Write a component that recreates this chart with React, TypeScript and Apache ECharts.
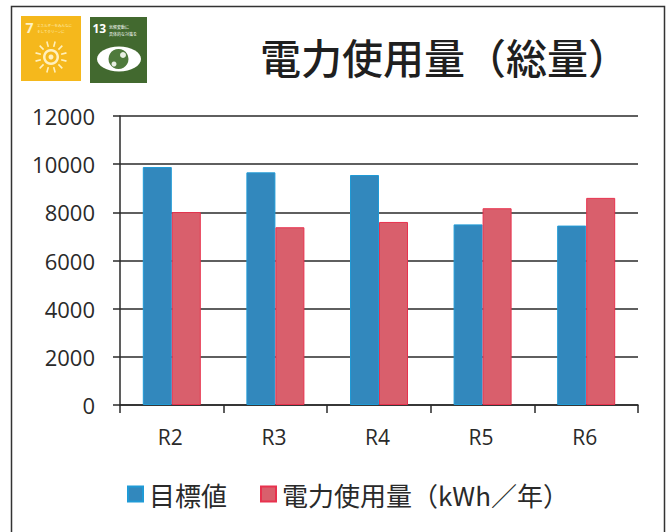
import React, { useEffect, useRef } from "react";
import * as echarts from "echarts";

const categories = ["R2", "R3", "R4", "R5", "R6"];
const targetValues = [9880, 9660, 9550, 7500, 7450];
const usageValues = [8010, 7380, 7600, 8170, 8600];
const seriesNames = ["目標値", "電力使用量（kWh／年）"];
const titleText = "電力使用量（総量）";

const jp = '"Noto Sans CJK JP", sans-serif';
const latin = '"Open Sans", sans-serif';

function sunRays() {
  const rays: any[] = [];
  const cx = 51, cy = 57;
  for (let i = 0; i < 12; i++) {
    const a = (i * Math.PI) / 6 + Math.PI / 12;
    rays.push({
      type: "line",
      shape: { x1: cx + Math.cos(a) * 10.5, y1: cy + Math.sin(a) * 10.5, x2: cx + Math.cos(a) * 16, y2: cy + Math.sin(a) * 16 },
      style: { stroke: "#fff0bd", lineWidth: 1.6 },
    });
  }
  return rays;
}

export default function App() {
  const ref = useRef<HTMLDivElement>(null);
  useEffect(() => {
    const chart = echarts.init(ref.current!, null, { renderer: "svg" });
    chart.setOption({
      animation: false,
      backgroundColor: "#ffffff",
      title: {
        text: titleText,
        left: 255,
        top: 30,
        textStyle: { fontFamily: jp, fontSize: 41, fontWeight: 500, color: "#1f1f1f" },
      },
      legend: {
        left: 122,
        top: 476,
        itemWidth: 15,
        itemHeight: 15,
        itemGap: 33,
        icon: "rect",
        textStyle: { fontFamily: jp, fontSize: 26, color: "#2a2a2a", padding: [0, 0, 0, 1] },
        data: seriesNames,
      },
      grid: { left: 120, right: 29, top: 116, height: 289 },
      xAxis: {
        type: "category",
        data: categories,
        axisLine: { lineStyle: { color: "#2a2a2a", width: 1.5 } },
        axisTick: { show: true, alignWithLabel: false, length: 8, lineStyle: { color: "#2a2a2a", width: 1.5 } },
        axisLabel: { fontFamily: latin, fontSize: 21, color: "#2a2a2a", margin: 21, padding: [0, 3, 0, 0] },
      },
      yAxis: {
        type: "value",
        min: 0,
        max: 12000,
        interval: 2000,
        axisLine: { show: true, lineStyle: { color: "#2a2a2a", width: 1.5 } },
        axisTick: { show: true, length: 7, lineStyle: { color: "#2a2a2a", width: 1.5 } },
        axisLabel: { fontFamily: latin, fontSize: 22, color: "#2a2a2a", margin: 24, padding: [0, 1, 3, 0], formatter: (v: number) => String(v) },
        splitLine: { show: true, lineStyle: { color: "#2a2a2a", width: 1.5 } },
      },
      series: [
        {
          name: seriesNames[0],
          type: "bar",
          data: targetValues,
          barWidth: 29,
          barGap: 0,
          itemStyle: { color: "#3288bd", borderColor: "#1f9ad6", borderWidth: 1 },
        },
        {
          name: seriesNames[1],
          type: "bar",
          data: usageValues,
          barWidth: 29,
          barGap: 0,
          itemStyle: { color: "#d95f6c", borderColor: "#e8324e", borderWidth: 1 },
        },
      ],
      graphic: [
        {
          type: "polyline",
          silent: true,
          shape: { points: [[11.5, 532], [11.5, 6.5], [664.5, 6.5], [664.5, 532]] },
          style: { stroke: "#333333", lineWidth: 1.5, fill: "none" },
        },
        { type: "rect", shape: { x: 21, y: 16, width: 60, height: 65 }, style: { fill: "#f5b81c" } },
        { type: "text", x: 25.5, y: 20, style: { text: "7", fill: "#fff3c4", fontFamily: latin, fontSize: 14, fontWeight: 700 } },
        { type: "text", x: 37, y: 22, style: { text: "エネルギーをみんなに\nそしてクリーンに", fill: "#fff0bd", fontFamily: jp, fontSize: 3.5, lineHeight: 6 } },
        ...sunRays(),
        { type: "ring", shape: { cx: 51, cy: 57, r: 8, r0: 5.5 }, style: { fill: "#fff0bd" } },
        { type: "circle", shape: { cx: 51, cy: 57, r: 2.5 }, style: { fill: "#fff0bd" } },
        { type: "rect", shape: { x: 90, y: 17, width: 57, height: 66 }, style: { fill: "#42692f" } },
        { type: "text", x: 92.5, y: 22, style: { text: "13", fill: "#ffffff", fontFamily: latin, fontSize: 12, fontWeight: 700 } },
        { type: "text", x: 109, y: 23, style: { text: "気候変動に\n具体的な対策を", fill: "#ffffff", fontFamily: jp, fontSize: 4, lineHeight: 7 } },
        { type: "ellipse", shape: { cx: 119, cy: 59, rx: 22, ry: 12.5 }, style: { fill: "#ffffff" } },
        { type: "circle", shape: { cx: 118.5, cy: 59, r: 10 }, style: { fill: "#4f7a3c" } },
        { type: "circle", shape: { cx: 123, cy: 55, r: 3 }, style: { fill: "#e8efe2" } },
        { type: "circle", shape: { cx: 114, cy: 64, r: 2.5 }, style: { fill: "#e8efe2" } },
      ],
    });
    return () => chart.dispose();
  }, []);
  return <div ref={ref} style={{ position: "fixed", left: 0, top: 0, width: 667, height: 532 }} />;
}
